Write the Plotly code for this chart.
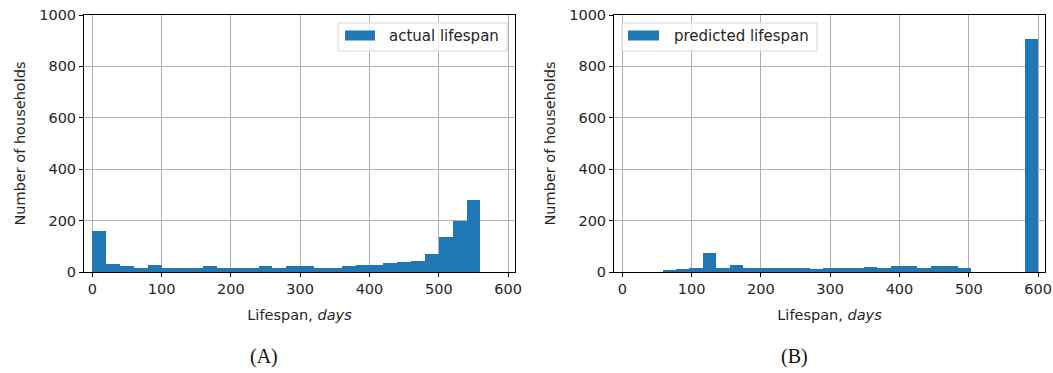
import numpy as np
import plotly.graph_objects as go

# Histogram counts per bin (households)
actual_counts = [158, 32, 23, 17, 27, 17, 17, 17, 23, 17, 17, 17, 23, 14,
                 22, 22, 17, 14, 22, 27, 27, 36, 37, 43, 72, 136, 198, 281]
predicted_counts = [5, 12, 16, 75, 17, 27, 17, 17, 16, 16, 14, 13, 16, 14,
                    17, 21, 17, 22, 22, 17, 22, 22, 17, 0, 0, 0, 0, 908]

# Value range covered by each histogram (days)
actual_range = (0, 560)
predicted_range = (58, 600)

x_ticks = [0, 100, 200, 300, 400, 500, 600]
y_ticks = [0, 200, 400, 600, 800, 1000]

BAR = "#1f77b4"
W, H = 1053, 373
TICK_FONT = dict(family="DejaVu Sans", size=14.5, color="#262626")


def px_x(v):
    return v / W


def px_y(v):
    return 1 - v / H


def bins(counts, rng):
    edges = np.linspace(rng[0], rng[1], len(counts) + 1)
    centers = (edges[:-1] + edges[1:]) / 2
    widths = np.diff(edges)
    return centers, widths


fig = go.Figure()

for counts, rng, xa, ya in [
    (actual_counts, actual_range, "x", "y"),
    (predicted_counts, predicted_range, "x2", "y2"),
]:
    c, w = bins(counts, rng)
    fig.add_trace(go.Bar(
        x=c, y=counts, width=w, xaxis=xa, yaxis=ya,
        marker=dict(color=BAR, line=dict(width=0)),
        showlegend=False, hoverinfo="x+y",
    ))

axis_common = dict(
    showline=True, linecolor="black", linewidth=1, mirror=True,
    showgrid=True, gridcolor="#b0b0b0", gridwidth=1,
    ticks="outside", ticklen=4, tickcolor="black", tickwidth=1,
    tickfont=TICK_FONT, zeroline=False, automargin=False,
)

yd = [px_y(272), px_y(15)]
fig.update_layout(
    width=W, height=H,
    margin=dict(l=0, r=0, t=0, b=0),
    paper_bgcolor="white", plot_bgcolor="white",
    bargap=0,
    xaxis=dict(domain=[px_x(84), px_x(515)], range=[-12, 610], tickvals=x_ticks,
               anchor="y",
               title=dict(text="Lifespan, <i>days</i>", font=TICK_FONT, standoff=13),
               **axis_common),
    yaxis=dict(domain=yd, range=[0, 1000], tickvals=y_ticks, anchor="x",
               title=dict(text="Number of households", font=TICK_FONT, standoff=10),
               **axis_common),
    xaxis2=dict(domain=[px_x(614), px_x(1045)], range=[-12, 610], tickvals=x_ticks,
                anchor="y2",
                title=dict(text="Lifespan, <i>days</i>", font=TICK_FONT, standoff=13),
                **axis_common),
    yaxis2=dict(domain=yd, range=[0, 1000], tickvals=y_ticks, anchor="x2",
                title=dict(text="Number of households", font=TICK_FONT, standoff=10),
                **axis_common),
)

# Legend boxes drawn as frame + colour patch + label
legends = [
    dict(frame=(338, 507), patch=(345, 375), text_x=387, label="actual lifespan"),
    dict(frame=(622, 817), patch=(628, 659), text_x=672, label="predicted lifespan"),
]
shapes = []
annotations = []
for lg in legends:
    shapes.append(dict(
        type="rect", xref="paper", yref="paper",
        x0=px_x(lg["frame"][0]), x1=px_x(lg["frame"][1]),
        y0=px_y(51), y1=px_y(23),
        fillcolor="rgba(255,255,255,0.8)", line=dict(color="#d6d6d6", width=1),
    ))
    shapes.append(dict(
        type="rect", xref="paper", yref="paper",
        x0=px_x(lg["patch"][0]), x1=px_x(lg["patch"][1]),
        y0=px_y(40.5), y1=px_y(30.5),
        fillcolor=BAR, line=dict(width=0),
    ))
    annotations.append(dict(
        text=lg["label"], xref="paper", yref="paper",
        x=px_x(lg["text_x"]), y=px_y(36), xanchor="left", yanchor="middle",
        showarrow=False, font=dict(family="DejaVu Sans", size=15, color="#262626"),
    ))

# Panel labels
for lbl, cx in [("(A)", 264), ("(B)", 795)]:
    annotations.append(dict(
        text=lbl, xref="paper", yref="paper", x=px_x(cx), y=px_y(356),
        xanchor="center", yanchor="middle", showarrow=False,
        font=dict(family="Liberation Serif", size=20, color="#111111"),
    ))

fig.update_layout(shapes=shapes, annotations=annotations)

fig.write_html("out.html")
